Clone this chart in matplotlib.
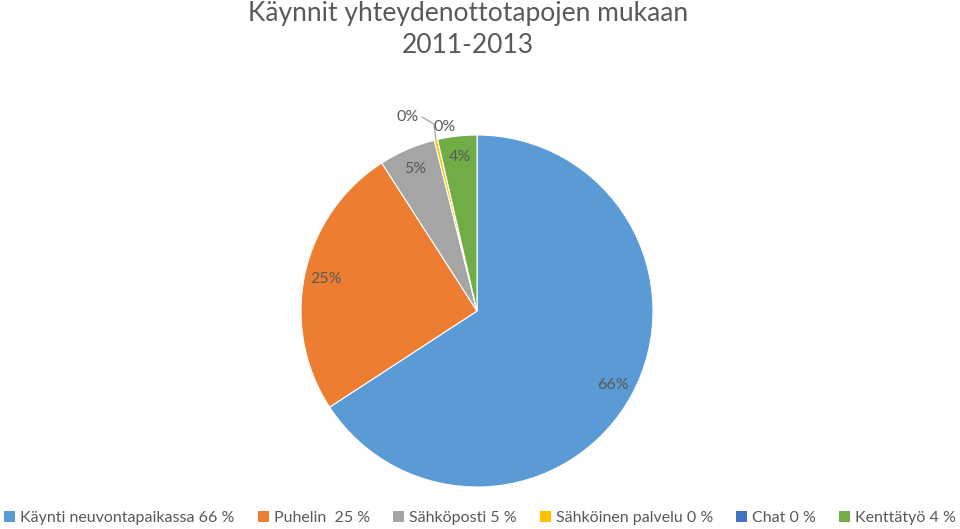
import numpy as np
import matplotlib.pyplot as plt
from matplotlib.patches import Patch

plt.rcParams['font.family'] = ['Lato', 'DejaVu Sans']

categories = ['Käynti neuvontapaikassa', 'Puhelin ', 'Sähköposti', 'Sähköinen palvelu', 'Chat', 'Kenttätyö']
values = [65.8, 25.1, 5.2, 0.3, 0.0, 3.6]
legend_pct = ['66 %', '25 %', '5 %', '0 %', '0 %', '4 %']
colors = ['#5B9BD5', '#ED7D31', '#A5A5A5', '#FFC000', '#4472C4', '#70AD47']
txt = '#595959'

W, H = 960, 529
fig = plt.figure(figsize=(W / 100, H / 100), dpi=100)
ax = fig.add_axes([0, 0, 1, 1])

cx, cy, R = 477, H - 311, 176
wedges, _ = ax.pie(values, colors=colors, startangle=90, counterclock=False,
                   radius=R, center=(cx, cy), frame=True,
                   wedgeprops=dict(edgecolor='white', linewidth=0.8))
ax.set_xlim(0, W)
ax.set_ylim(0, H)
ax.set_aspect('equal')
ax.axis('off')

total = sum(values)
cum = 0
mids = []
for v in values:
    mid = 90 - 360 * (cum + v / 2) / total
    mids.append(np.deg2rad(mid))
    cum += v

labels = ['%d%%' % round(v) for v in values]
# regular labels inside the slices
for i in [0, 1, 2, 5]:
    a = mids[i]
    ax.text(cx + 0.88 * R * np.cos(a), cy + 0.88 * R * np.sin(a), labels[i],
            ha='center', va='center', fontsize=11.5, color=txt)

# tiny slices: labels outside
a = mids[3]
lx, ly = cx - 69, cy + 194
ax.text(lx, ly, labels[3], ha='center', va='center', fontsize=11.5, color=txt)
ex, ey = cx + R * np.cos(a), cy + R * np.sin(a)
ax.plot([lx + 14, ex - 2, ex], [ly, ly - 7, ey], color='#A6A6A6', lw=0.9)
ax.text(cx - 32, cy + 184, labels[4], ha='center', va='center', fontsize=11.5, color=txt)

fig.text(468 / W, 1 - 13 / H, 'Käynnit yhteydenottotapojen mukaan', ha='center', va='center',
         fontsize=19, color=txt)
fig.text(468 / W, 1 - 46 / H, '2011-2013', ha='center', va='center', fontsize=19, color=txt)

handles = [Patch(facecolor=c, edgecolor='none') for c in colors]
leg_labels = ['%s %s' % (c, p) for c, p in zip(categories, legend_pct)]
leg = fig.legend(handles, leg_labels, loc='center', bbox_to_anchor=(0.5, 1 - 518 / H),
                 ncol=6, frameon=False, fontsize=11.5, handlelength=0.7, handleheight=0.7,
                 handletextpad=0.3, columnspacing=1.45, labelcolor=txt,
                 borderaxespad=0, borderpad=0)

fig.savefig('out.png', dpi=100)
